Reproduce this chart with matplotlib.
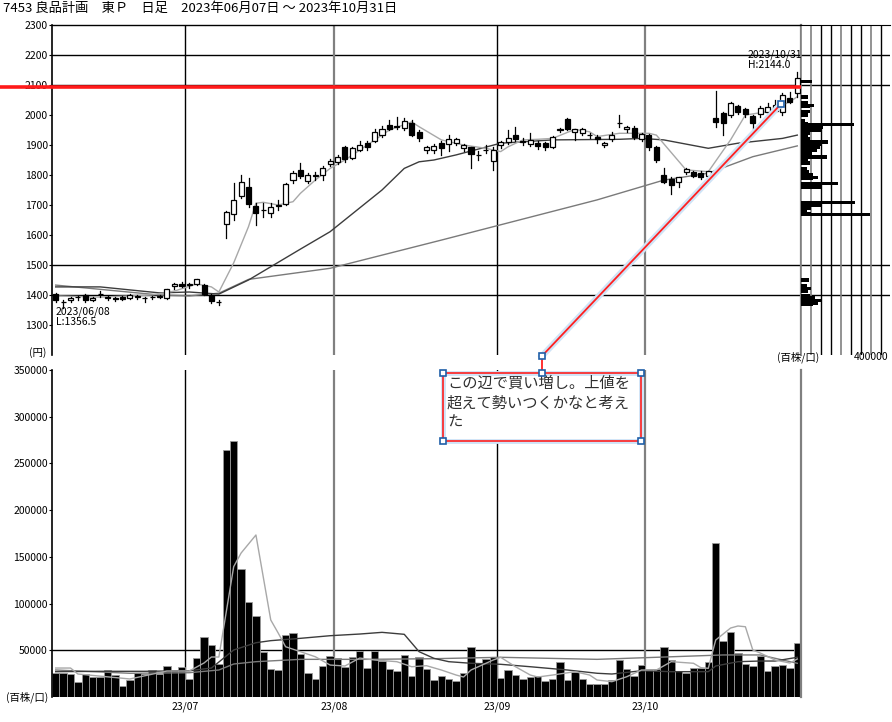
import numpy as np
import pandas as pd
import matplotlib
matplotlib.use('Agg')
import matplotlib.pyplot as plt
from matplotlib.patches import Rectangle
from matplotlib.lines import Line2D

plt.rcParams['font.family'] = ['Noto Sans CJK JP', 'DejaVu Sans']

# ---------------- DATA ----------------
holidays = ['2023-07-17', '2023-08-11', '2023-09-18', '2023-10-09']
dates = pd.bdate_range('2023-06-07', '2023-10-31')
dates = dates[~dates.isin(pd.to_datetime(holidays))]

opens = [1402, 1378, 1383, 1392, 1400, 1383, 1402, 1390, 1390, 1392, 1390, 1392, 1390, 1393, 1394, 1389, 1430, 1438,
         1433, 1436, 1433, 1400, 1378, 1637, 1670, 1730, 1761, 1697, 1683, 1672, 1697, 1702, 1783, 1817, 1781, 1797, 1800, 1838,
         1845, 1893, 1858, 1885, 1905, 1915, 1935, 1965, 1960, 1958, 1975, 1944, 1885, 1883, 1908, 1903, 1908, 1889, 1892, 1866, 1883, 1848,
         1900, 1911, 1933, 1910, 1903, 1908, 1906, 1892, 1950, 1986, 1944, 1941, 1933, 1928, 1900, 1919, 1972, 1952, 1956, 1919,
         1933, 1894, 1800, 1786, 1778, 1809, 1809, 1806, 1797, 1989, 2006, 2000, 2030, 2019, 1997, 2003, 2011, 2014, 2011, 2056, 2075]
highs = [1406, 1384, 1394, 1398, 1404, 1392, 1412, 1396, 1394, 1396, 1402, 1400, 1395, 1398, 1400, 1420, 1440, 1442,
         1440, 1455, 1436, 1402, 1385, 1680, 1774, 1800, 1789, 1707, 1707, 1706, 1717, 1772, 1812, 1839, 1808, 1810, 1830, 1855,
         1868, 1898, 1895, 1912, 1912, 1955, 1962, 1985, 1995, 1990, 1982, 1950, 1898, 1902, 1912, 1933, 1922, 1905, 1895, 1880, 1900, 1893,
         1915, 1950, 1961, 1922, 1941, 1912, 1910, 1930, 1958, 1990, 1955, 1958, 1940, 1932, 1910, 1944, 2000, 1965, 1965, 1940,
         1936, 1897, 1822, 1792, 1795, 1822, 1815, 1812, 1815, 2081, 2011, 2044, 2033, 2022, 2000, 2030, 2040, 2050, 2072, 2078, 2144]
lows = [1378, 1356.5, 1378, 1385, 1377, 1380, 1395, 1385, 1380, 1384, 1386, 1388, 1378, 1386, 1390, 1386, 1420, 1426,
        1425, 1433, 1400, 1375, 1368, 1589, 1650, 1722, 1694, 1633, 1661, 1659, 1683, 1700, 1775, 1790, 1772, 1783, 1783, 1830,
        1838, 1845, 1852, 1880, 1885, 1910, 1928, 1950, 1955, 1950, 1930, 1915, 1875, 1872, 1867, 1880, 1900, 1880, 1822, 1850, 1872, 1817,
        1890, 1905, 1915, 1900, 1898, 1888, 1883, 1890, 1945, 1950, 1917, 1935, 1925, 1906, 1893, 1915, 1961, 1945, 1920, 1915,
        1885, 1845, 1775, 1737, 1761, 1805, 1795, 1788, 1783, 1961, 1933, 1995, 2005, 1995, 1944, 1993, 2005, 2010, 2000, 2040, 2061]
closes = [1383, 1376, 1390, 1394, 1382, 1389, 1405, 1392, 1388, 1388, 1399, 1398, 1390, 1394, 1397, 1419, 1436, 1429,
          1436, 1453, 1403, 1380, 1377, 1678, 1717, 1778, 1702, 1674, 1684, 1692, 1700, 1770, 1806, 1797, 1800, 1800, 1822, 1848,
          1860, 1852, 1890, 1900, 1892, 1945, 1955, 1952, 1962, 1980, 1935, 1922, 1893, 1897, 1889, 1919, 1919, 1900, 1870, 1868, 1885, 1883,
          1910, 1924, 1920, 1912, 1917, 1897, 1892, 1928, 1952, 1952, 1952, 1952, 1933, 1919, 1908, 1933, 1972, 1961, 1926, 1936,
          1894, 1850, 1778, 1767, 1792, 1819, 1798, 1795, 1813, 1978, 1974, 2039, 2011, 2003, 1972, 2022, 2028, 2033, 2067, 2044, 2122]
volumes = [26000, 26000, 24600, 15700, 25000, 21700, 21700, 28500, 23200, 12100, 17800, 26000, 24500, 29200, 24600, 32800, 29000, 32100,
           19600, 41700, 64200, 55600, 35300, 264500, 274000, 137000, 101300, 86700, 48200, 30000, 28500, 66000, 68500, 45700, 25300, 19300, 33200, 43900,
           41400, 32100, 43100, 49600, 31000, 49200, 38200, 30000, 27500, 44600, 22100, 42500, 30000, 18500, 22100, 19600, 17500, 25700, 53200, 36400, 41000, 42800,
           20000, 29200, 23500, 19600, 21000, 22100, 17100, 19600, 37500, 18500, 26400, 19300, 14300, 14300, 13600, 18200, 39600, 30000, 22500, 34200,
           30000, 30000, 53800, 39300, 27800, 26000, 31000, 31000, 37800, 164800, 59900, 69900, 47100, 35300, 32800, 43600, 27500, 33500, 33900, 31000, 57500]

# moving averages (day index, value)
ma_s_day = [0, 6, 13, 16, 19, 21, 22, 24, 26, 27, 28, 30, 32, 33, 35, 37, 39, 41, 45, 48, 49, 52, 55, 58, 60, 61, 63, 65, 67, 70, 72, 73, 76, 80, 81, 85, 88, 91, 93, 96, 99, 100]
ma_s_val = [1397, 1393, 1400, 1413, 1437, 1427, 1410, 1507, 1628, 1706, 1709, 1700, 1711, 1739, 1783, 1822, 1850, 1883, 1950, 1977, 1961, 1917, 1900, 1889, 1878, 1894, 1917, 1919, 1922, 1952, 1944, 1928, 1939, 1939, 1933, 1817, 1811, 1917, 2000, 2011, 2044, 2061]
ma_m_day = [0, 6, 14, 18, 22, 26, 33, 37, 44, 47, 49, 51, 54, 60, 67, 76, 79, 82, 88, 92, 98, 100]
ma_m_val = [1427, 1427, 1407, 1410, 1403, 1450, 1553, 1611, 1750, 1822, 1844, 1850, 1867, 1906, 1917, 1919, 1922, 1917, 1889, 1906, 1922, 1933]
ma_l_day = [0, 14, 18, 22, 26, 37, 52, 73, 79, 82, 88, 94, 100]
ma_l_val = [1433, 1400, 1397, 1406, 1452, 1489, 1583, 1717, 1761, 1783, 1806, 1861, 1897]

vma_s_day = [0, 2, 3, 10, 15, 18, 20, 21, 22, 24, 25, 27, 29, 30, 31, 33, 35, 37, 39, 41, 43, 46, 48, 50, 52, 54, 55, 56, 59, 60, 62, 64, 65, 67, 70, 72, 73, 75, 77, 79, 81, 83, 86, 87, 88, 89, 91, 92, 93, 94, 95, 97, 99, 100]
vma_s_val = [31000, 31000, 24600, 19300, 27800, 27800, 36400, 42800, 42800, 139500, 154100, 173400, 82400, 68500, 53800, 48500, 43100, 34200, 33200, 41700, 39600, 37800, 32400, 33500, 28900, 23500, 21400, 28900, 39600, 42500, 32400, 23500, 21400, 23500, 27100, 23500, 18200, 16400, 21700, 28900, 28900, 37800, 36100, 31400, 30700, 61000, 73800, 76000, 75200, 50300, 47100, 39600, 36400, 40700]
vma_m_day = [0, 6, 12, 18, 21, 24, 27, 29, 33, 37, 41, 44, 47, 49, 51, 53, 56, 60, 64, 69, 73, 75, 79, 83, 88, 89, 92, 95, 97, 100]
vma_m_val = [27100, 27500, 27500, 28100, 31000, 50300, 58100, 60300, 62800, 65600, 67400, 69200, 67100, 48500, 41400, 37800, 36100, 35000, 32400, 28900, 25400, 24600, 28100, 27100, 27100, 33200, 37800, 38500, 38500, 42500]
vma_l_day = [0, 10, 18, 22, 24, 27, 33, 42, 51, 60, 73, 81, 90, 95, 100]
vma_l_val = [28900, 25400, 26000, 28900, 35300, 37800, 40300, 40300, 41000, 42500, 40300, 42500, 45000, 45000, 36100]

# volume by price (price level, volume)
prof_price = [2113, 2060, 2040, 2033, 2027, 2013, 2000, 1983, 1973, 1967, 1960, 1950, 1940, 1933, 1923, 1910, 1903, 1893,
              1883, 1873, 1860, 1853, 1840, 1820, 1813, 1803, 1793, 1787, 1773, 1760, 1707, 1700, 1690, 1683, 1673, 1667,
              1450, 1433, 1423, 1413, 1397, 1390, 1383, 1373, 1367]
prof_vol = [53000, 33000, 35000, 65000, 45000, 45000, 35000, 20000, 35000, 265000, 110000, 100000, 45000, 35000, 45000, 135000, 105000, 95000,
            80000, 55000, 130000, 35000, 45000, 30000, 40000, 60000, 85000, 60000, 185000, 105000, 270000, 105000, 50000, 30000, 50000, 345000,
            40000, 30000, 50000, 35000, 45000, 70000, 105000, 85000, 60000]

price_ticks = list(range(1300, 2400, 100))
price_lines = [2200, 2100, 1500, 1400]
vol_ticks = list(range(50000, 400000, 50000))
resistance = 2092

title = '7453 良品計画　東Ｐ　日足　2023年06月07日 ～ 2023年10月31日'
note = 'この辺で買い増し。上値を\n超えて勢いつくかなと考え\nた'

# ---------------- FIGURE ----------------
W, H = 892, 722
fig = plt.figure(figsize=(W / 100, H / 100), dpi=100)


def box(l, t, r, b):
    return [l / W, 1 - b / H, (r - l) / W, (b - t) / H]


def fx(px):
    return px / W


def fy(py):
    return 1 - py / H


n = len(dates)
idx = np.arange(n)
month_start = [i for i in range(1, n) if dates[i].month != dates[i - 1].month]
month_lab = [dates[i].strftime('%y/%m') for i in month_start]
line_cols = ['black', '#808080', 'black', '#808080']
line_w = [1.0, 1.6, 1.0, 1.6]

ax_p = fig.add_axes(box(52, 25, 801, 355))
ax_r = fig.add_axes(box(801, 25, 890, 355))
ax_v = fig.add_axes(box(52, 370, 801, 697))

# price panel
ax_p.set_xlim(-0.5, n - 0.5)
ax_p.set_ylim(1200, 2300)
ax_p.spines['bottom'].set_visible(False)
ax_p.spines['left'].set_color('black')
ax_p.spines['left'].set_linewidth(1.2)
ax_p.spines['right'].set_color('#808080')
ax_p.spines['right'].set_linewidth(1.6)
ax_p.spines['top'].set_linewidth(1.0)
ax_p.set_xticks([])
ax_p.set_yticks(price_ticks)
ax_p.tick_params(axis='y', labelsize=7.5, length=2, pad=1)
for y in price_lines:
    ax_p.axhline(y, color='black', lw=1.0, zorder=1)
for m, c, w in zip(month_start, line_cols, line_w):
    ax_p.axvline(m - 0.5, color=c, lw=w, zorder=1)

ax_p.plot(ma_l_day, ma_l_val, color='#7a7a7a', lw=1.0, zorder=2)
ax_p.plot(ma_m_day, ma_m_val, color='#3c3c3c', lw=1.0, zorder=2)
ax_p.plot(ma_s_day, ma_s_val, color='#a8a8a8', lw=1.0, zorder=2)

bw = 0.68
for i in idx:
    o, h, l, c = opens[i], highs[i], lows[i], closes[i]
    ax_p.plot([i, i], [l, h], color='black', lw=0.9, zorder=3)
    lo = min(o, c)
    hgt = max(abs(c - o), 1.2)
    fc = 'white' if c >= o else 'black'
    ax_p.add_patch(Rectangle((i - bw / 2, lo), bw, hgt, facecolor=fc, edgecolor='black', lw=0.9, zorder=4))

ax_p.text(0, 1363, '2023/06/08\nL:1356.5', fontsize=7.5, ha='left', va='top', linespacing=1.05,
          transform=ax_p.transData, zorder=6)
ax_p.text(fx(748), fy(49), '2023/10/31\nH:2144.0', fontsize=7.5, ha='left', va='top', linespacing=1.05,
          transform=fig.transFigure, zorder=6)

# resistance line from figure edge to the right of the price panel
ax_p.add_line(Line2D([-7.5, n - 0.5], [resistance, resistance], color='#ff1a1a', lw=2.6, zorder=5, clip_on=False))

# volume profile panel
ax_r.set_xlim(0, 445000)
ax_r.set_ylim(1200, 2300)
for s in ['left', 'right', 'bottom']:
    ax_r.spines[s].set_visible(False)
ax_r.set_xticks([])
ax_r.set_yticks([])
for y in price_lines:
    ax_r.axhline(y, color='black', lw=1.0, zorder=1)
prof_grid_cols = ['#808080', '#808080', 'black', 'black', '#808080', 'black', 'black', '#808080', 'black']
for k, xv in enumerate(range(0, 450000, 50000)):
    ax_r.axvline(xv, color=prof_grid_cols[k], lw=1.2 if prof_grid_cols[k] != 'black' else 1.0, zorder=1)
ax_r.barh(prof_price, prof_vol, height=10.5, color='black', zorder=3)

# volume panel
ax_v.set_xlim(-0.5, n - 0.5)
ax_v.set_ylim(0, 350000)
for s in ['top', 'bottom']:
    ax_v.spines[s].set_visible(False)
ax_v.spines['left'].set_color('black')
ax_v.spines['left'].set_linewidth(1.2)
ax_v.spines['right'].set_color('#808080')
ax_v.spines['right'].set_linewidth(1.6)
ax_v.set_yticks(vol_ticks)
ax_v.set_yticklabels([str(v) for v in vol_ticks])
ax_v.tick_params(axis='y', labelsize=7.5, length=2, pad=1)
ax_v.set_xticks([m - 0.5 for m in month_start])
ax_v.set_xticklabels(month_lab)
ax_v.tick_params(axis='x', labelsize=7.5, length=0, pad=3)
ax_v.axhline(50000, color='black', lw=1.0, zorder=1)
for m, c, w in zip(month_start, line_cols, line_w):
    ax_v.axvline(m - 0.5, color=c, lw=w, zorder=1)
ax_v.bar(idx, volumes, width=1.0, color='black', edgecolor='#9a9a9a', lw=0.6, zorder=2)
ax_v.plot(vma_l_day, vma_l_val, color='#7a7a7a', lw=1.0, zorder=3)
ax_v.plot(vma_m_day, vma_m_val, color='#3c3c3c', lw=1.0, zorder=3)
ax_v.plot(vma_s_day, vma_s_val, color='#a8a8a8', lw=1.0, zorder=3)

# texts around the panels
fig.text(fx(3), fy(8), title, fontsize=9.5, ha='left', va='center')
fig.text(fx(38), fy(353), '(円)', fontsize=7.5, ha='center', va='center')
fig.text(fx(27), fy(697), '(百株/口)', fontsize=7.5, ha='center', va='center')
fig.text(fx(798), fy(357), '(百株/口)', fontsize=7.5, ha='center', va='center')
fig.text(fx(888), fy(357), '400000', fontsize=7.5, ha='right', va='center')

# annotation (drawn trend line + note box)
p0 = (542, 356)
p1 = (781, 104)
fig.add_artist(Line2D([fx(p0[0]), fx(p1[0])], [fy(p0[1]), fy(p1[1])], color='#cfe4f7', lw=4.5, zorder=8))
fig.add_artist(Line2D([fx(p0[0]), fx(p1[0])], [fy(p0[1]), fy(p1[1])], color='#ff2020', lw=1.3, zorder=9))
fig.add_artist(Line2D([fx(542), fx(542)], [fy(356), fy(373)], color='#ff2020', lw=1.3, zorder=9))

bx0, by0, bx1, by1 = 443, 373, 641, 441
fig.add_artist(Rectangle((fx(bx0), fy(by1)), fx(bx1) - fx(bx0), fy(by0) - fy(by1), transform=fig.transFigure,
                         facecolor='white', edgecolor='#cfe4f7', lw=3.5, zorder=8))
fig.add_artist(Rectangle((fx(bx0), fy(by1)), fx(bx1) - fx(bx0), fy(by0) - fy(by1), transform=fig.transFigure,
                         facecolor='none', edgecolor='#ff2020', lw=1.2, zorder=9))
fig.text(fx(447), fy(375), note, fontsize=11, ha='left', va='top', color='#303030', linespacing=1.18, zorder=10)

hs = 6
for (hx, hy) in [(bx0, by0), (542, by0), (bx1, by0), (bx0, by1), (bx1, by1), p0, p1]:
    fig.add_artist(Rectangle((fx(hx - hs / 2), fy(hy + hs / 2)), hs / W, hs / H, transform=fig.transFigure,
                             facecolor='white', edgecolor='#1f5fa8', lw=1.2, zorder=11))

fig.savefig('out.png', dpi=100)
